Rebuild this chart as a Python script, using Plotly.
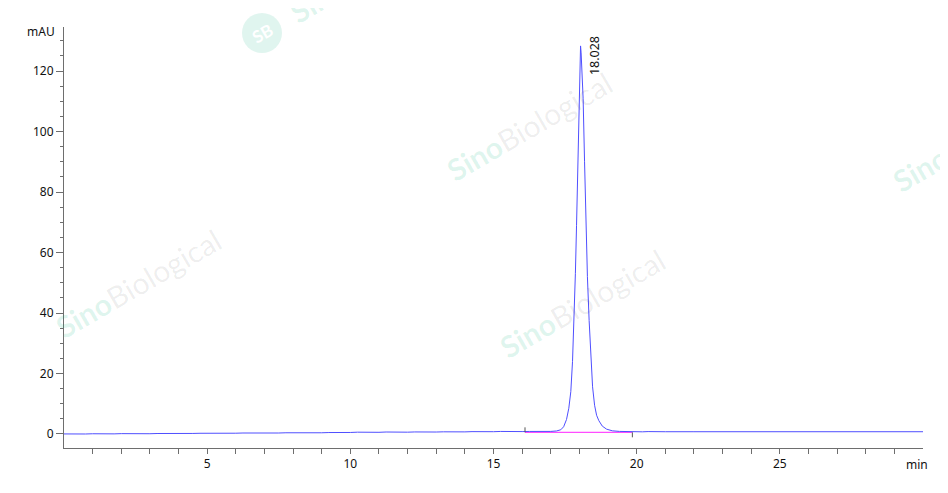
import plotly.graph_objects as go

# ---- data ----
base_time = [0.00, 0.25, 0.50, 0.75, 1.00, 1.25, 1.50, 1.75, 2.00, 2.25, 2.50, 2.75,
             3.00, 3.25, 3.50, 3.75, 4.00, 4.25, 4.50, 4.75, 5.00, 5.25, 5.50, 5.75,
             6.00, 6.25, 6.50, 6.75, 7.00, 7.25, 7.50, 7.75, 8.00, 8.25, 8.50, 8.75,
             9.00, 9.25, 9.50, 9.75, 10.00, 10.25, 10.50, 10.75, 11.00, 11.25, 11.50, 11.75,
             12.00, 12.25, 12.50, 12.75, 13.00, 13.25, 13.50, 13.75, 14.00, 14.25, 14.50, 14.75,
             15.00, 15.25, 15.50, 15.75, 16.00, 16.25, 16.50, 16.75]
base_mau = [0.02, -0.05, 0.03, 0.00, 0.08, 0.02, 0.10, 0.04, 0.12, 0.06, 0.10, 0.15,
            0.09, 0.16, 0.12, 0.20, 0.15, 0.22, 0.18, 0.24, 0.20, 0.27, 0.23, 0.30,
            0.26, 0.33, 0.28, 0.35, 0.30, 0.37, 0.33, 0.40, 0.36, 0.43, 0.38, 0.46,
            0.40, 0.48, 0.44, 0.52, 0.50, 0.60, 0.53, 0.62, 0.56, 0.66, 0.58, 0.64,
            0.60, 0.68, 0.62, 0.70, 0.65, 0.72, 0.66, 0.74, 0.70, 0.78, 0.72, 0.80,
            0.76, 0.84, 0.78, 0.86, 0.80, 0.84, 0.78, 0.82]

peak_time = [17.00, 17.20, 17.35, 17.45, 17.55, 17.63, 17.70, 17.76, 17.81, 17.86, 17.90,
             17.95, 17.99, 18.02, 18.04, 18.06, 18.09, 18.13, 18.18, 18.22, 18.28, 18.34,
             18.40, 18.46, 18.53, 18.60, 18.68, 18.80, 18.95, 19.15, 19.40]
peak_mau = [0.85, 1.0, 1.4, 2.4, 4.8, 8.5, 14.0, 24.0, 37.0, 53.0, 69.0,
            89.0, 111.0, 123.0, 128.3, 126.0, 119.0, 111.0, 90.0, 71.0, 52.0, 37.5,
            25.0, 15.6, 9.5, 6.2, 4.4, 2.6, 1.6, 1.05, 0.85]

tail_time = [19.60, 19.80, 20.00, 20.20, 20.40, 20.60, 20.80, 21.00, 22.00, 24.00, 26.00, 28.00, 30.00]
tail_mau = [0.80, 0.70, 0.78, 0.72, 0.80, 0.74, 0.77, 0.75, 0.75, 0.75, 0.75, 0.75, 0.75]

peak_rt = 18.028
peak_height = 128.3
peak_label = "18.028"

integ_time = [16.10, 19.85]
integ_mau = [0.55, 0.55]
integ_start_tick = [0.55, 2.2]
integ_end_tick = [0.55, -1.1]

x_major = [5, 10, 15, 20, 25]
x_minor = [v for v in range(1, 30) if v % 5 != 0]
y_major = [0, 20, 40, 60, 80, 100, 120]

time_all = base_time + peak_time + tail_time
mau_all = base_mau + peak_mau + tail_mau

FONT = "Noto Sans"
AXIS = "#6e6e6e"

# page body has an 8px default margin; figure is sized to fit the 948x493 window
PAGE_OFF = 8
FIG_W, FIG_H = 948 - PAGE_OFF, 493 - PAGE_OFF
M_L, M_R, M_T, M_B = 64 - PAGE_OFF, 25, 27 - PAGE_OFF, 45
PLOT_X0, PLOT_Y1 = 64, 448       # plot area left / bottom in window pixels
PLOT_W, PLOT_H = 859, 421

fig = go.Figure()
fig.add_trace(go.Scatter(x=integ_time, y=integ_mau, mode="lines",
                         line=dict(color="#ff4dff", width=1.2), hoverinfo="skip"))
fig.add_trace(go.Scatter(x=time_all, y=mau_all, mode="lines",
                         line=dict(color="#4f4fff", width=1), hoverinfo="skip"))
fig.add_trace(go.Scatter(x=[integ_time[0], integ_time[0]], y=integ_start_tick, mode="lines",
                         line=dict(color="#555555", width=1), hoverinfo="skip"))
fig.add_trace(go.Scatter(x=[integ_time[1], integ_time[1]], y=integ_end_tick, mode="lines",
                         line=dict(color="#555555", width=1), hoverinfo="skip"))

annotations = [
    dict(x=peak_rt, y=peak_height, xref="x", yref="y", text=peak_label, textangle=-90,
         showarrow=False, xanchor="center", yanchor="middle", xshift=15, yshift=-10,
         font=dict(family=FONT, size=12.5, color="#111111")),
    dict(x=0, y=133, xref="paper", yref="y", text="mAU", showarrow=False, xanchor="right",
         yanchor="middle", xshift=-7, font=dict(family=FONT, size=12, color="#111111")),
    dict(x=30, y=0, xref="x", yref="paper", text="min", showarrow=False, xanchor="right",
         yanchor="top", xshift=7, yshift=-6, font=dict(family=FONT, size=12, color="#111111")),
]


def px_to_paper(cx, cy):
    return (cx - PLOT_X0) / PLOT_W, (PLOT_Y1 - cy) / PLOT_H


# faint "Sino Biological" watermarks (centres in window pixels)
wm_centers = [(138, 283), (529, 126), (582, 303), (975, 137), (372, -32)]
for cx, cy in wm_centers:
    px, py = px_to_paper(cx, cy)
    annotations.append(dict(
        x=px, y=py, xref="paper", yref="paper", xanchor="center", yanchor="middle",
        text="<span style='color:rgba(0,175,125,0.13)'><b>Sino</b></span>"
             "<span style='color:rgba(0,0,0,0.07)'>Biological</span>",
        showarrow=False, textangle=-30, font=dict(family="Lato", size=30)))
sbx, sby = px_to_paper(262, 33)
annotations.append(dict(x=sbx, y=sby, xref="paper", yref="paper", xanchor="center",
                        yanchor="middle", text="<b>SB</b>", showarrow=False, textangle=-30,
                        font=dict(family="Lato", size=17, color="rgba(255,255,255,1)")))
c0x, c0y = px_to_paper(242, 53)
c1x, c1y = px_to_paper(282, 13)

fig.update_layout(
    width=FIG_W, height=FIG_H,
    margin=dict(l=M_L, r=M_R, t=M_T, b=M_B, autoexpand=False),
    plot_bgcolor="white", paper_bgcolor="white",
    showlegend=False,
    font=dict(family=FONT, size=12, color="#111111"),
    annotations=annotations,
    shapes=[dict(type="circle", xref="paper", yref="paper",
                 x0=c0x, x1=c1x, y0=c0y, y1=c1y,
                 fillcolor="rgba(0,175,125,0.12)", line=dict(width=0), layer="below")],
    xaxis=dict(range=[0, 30], tickvals=x_major, ticks="outside", ticklen=5, tickcolor=AXIS,
               showline=True, linecolor=AXIS, linewidth=1, showgrid=False, zeroline=False,
               tickfont=dict(family=FONT, size=12, color="#111111"),
               minor=dict(tickvals=x_minor, ticks="outside", ticklen=5, tickcolor=AXIS, showgrid=False)),
    yaxis=dict(range=[-4.63, 134.55], tickvals=y_major, ticks="outside", ticklen=7, tickcolor=AXIS,
               showline=True, linecolor=AXIS, linewidth=1, showgrid=False, zeroline=False,
               tickfont=dict(family=FONT, size=12, color="#111111"),
               minor=dict(dtick=5, tick0=0, ticks="outside", ticklen=3, tickcolor=AXIS, showgrid=False)),
)

fig.write_html("out.html")
